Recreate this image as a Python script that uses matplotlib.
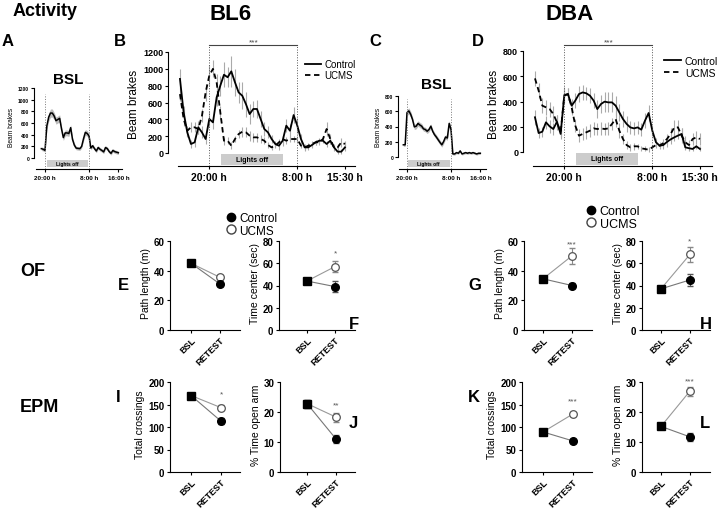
import numpy as np
import matplotlib
matplotlib.use("Agg")
from matplotlib import pyplot as plt
from matplotlib.lines import Line2D
from matplotlib.patches import Rectangle

plt.rcParams['font.family'] = ['Liberation Sans', 'DejaVu Sans']

W, H = 720, 510

# ---- activity data (beam brakes), hours relative to 20:00 ----
bsl_hours = np.arange(-1, 20.5, 0.5)
bl6_bsl = [160, 150, 130, 550, 700, 770, 770, 720, 640, 660,
           680, 500, 350, 430, 430, 420, 520, 320, 220, 170,
           165, 160, 200, 330, 440, 420, 380, 170, 210, 160,
           120, 180, 150, 130, 105, 180, 160, 110, 80, 130,
           110, 100, 90]
bl6_bsl_err = [30, 30, 30, 60, 70, 70, 70, 60, 60, 60,
               60, 50, 50, 50, 50, 50, 50, 40, 40, 30,
               30, 30, 30, 40, 50, 50, 40, 30, 30, 30,
               30, 30, 30, 30, 30, 30, 30, 30, 30, 30,
               30, 30, 30]
dba_bsl = [160, 160, 582, 604, 560, 493, 395, 404, 440, 420,
           404, 369, 360, 338, 360, 404, 337, 293, 262, 226,
           191, 160, 204, 262, 249, 440, 360, 40, 40, 58,
           49, 80, 40, 49, 58, 49, 58, 49, 58, 49,
           40, 49, 49]
dba_bsl_err = [20, 20, 40, 40, 40, 35, 35, 35, 35, 35,
               35, 30, 30, 30, 30, 30, 30, 30, 30, 30,
               30, 30, 30, 30, 30, 35, 30, 15, 15, 15,
               15, 15, 15, 15, 15, 15, 15, 15, 15, 15,
               15, 15, 15]

hours = np.arange(-4, 19, 0.5)
bl6_ctrl = [880, 483, 245, 107, 127, 305, 245, 166, 404, 364, 661, 800, 930, 900, 970, 840,
            720, 680, 580, 463, 523, 523, 404, 285, 245, 166, 107, 87, 146, 325, 265, 451,
            325, 166, 67, 67, 95, 127, 146, 146, 107, 146, 67, 16, 16, 67]
bl6_ctrl_err = [120, 80, 60, 50, 60, 80, 70, 60, 100, 80, 100, 120, 150, 120, 180, 160,
                120, 160, 150, 120, 100, 110, 90, 80, 70, 50, 40, 50, 60, 80, 80, 100,
                90, 60, 40, 30, 30, 30, 30, 30, 40, 40, 30, 30, 30, 40]
bl6_ucms = [700, 404, 265, 305, 305, 285, 443, 720, 920, 1000, 840, 483, 146, 146, 87, 166,
            225, 253, 245, 206, 186, 186, 166, 146, 95, 67, 87, 127, 166, 146, 166, 166,
            166, 87, 67, 87, 107, 127, 127, 166, 285, 166, 67, 67, 127, 107]
bl6_ucms_err = [80, 80, 60, 60, 60, 60, 80, 100, 120, 100, 100, 80, 50, 40, 40, 40,
                50, 60, 60, 60, 50, 50, 50, 40, 40, 30, 30, 40, 40, 40, 40, 40,
                40, 30, 30, 30, 30, 30, 30, 40, 80, 60, 40, 40, 50, 40]
dba_ctrl = [275, 150, 161, 235, 203, 182, 240, 143, 451, 459, 367, 407, 459, 472, 465, 446,
            407, 340, 380, 399, 393, 393, 367, 314, 261, 222, 195, 187, 195, 177, 248, 309,
            169, 77, 50, 55, 80, 100, 116, 130, 143, 37, 30, 24, 45, 24]
dba_ctrl_err = [60, 40, 40, 50, 50, 50, 50, 40, 60, 50, 50, 60, 60, 60, 50, 60,
                60, 70, 70, 80, 80, 80, 80, 70, 60, 60, 50, 50, 50, 50, 60, 60,
                40, 30, 30, 30, 40, 40, 30, 30, 50, 20, 20, 20, 20, 20]
dba_ucms = [583, 486, 367, 354, 340, 301, 235, 156, 446, 459, 354, 209, 129, 143, 156, 169,
            187, 182, 187, 182, 187, 222, 261, 169, 103, 55, 37, 45, 45, 29, 24, 18,
            37, 55, 50, 71, 103, 143, 195, 195, 129, 77, 55, 103, 116, 103]
dba_ucms_err = [60, 60, 60, 60, 60, 60, 60, 40, 50, 50, 60, 50, 50, 50, 50, 50,
                50, 50, 50, 50, 50, 50, 60, 60, 40, 30, 30, 30, 20, 20, 20, 20,
                20, 20, 20, 30, 40, 50, 60, 60, 60, 50, 40, 50, 50, 50]

# ---- OF / EPM data: [BSL, RETEST] ----
groups = ['BSL', 'RETEST']
of_path_bl6_ctrl, of_path_bl6_ctrl_err = [45, 31], [1.5, 1.5]
of_path_bl6_ucms, of_path_bl6_ucms_err = [45, 35.5], [1.5, 1.5]
of_center_bl6_ctrl, of_center_bl6_ctrl_err = [44, 39], [2.5, 5]
of_center_bl6_ucms, of_center_bl6_ucms_err = [44, 57], [2.5, 5]
of_path_dba_ctrl, of_path_dba_ctrl_err = [34.5, 30], [2, 2]
of_path_dba_ucms, of_path_dba_ucms_err = [34.5, 50], [2, 5.5]
of_center_dba_ctrl, of_center_dba_ctrl_err = [37, 45], [3, 5]
of_center_dba_ucms, of_center_dba_ucms_err = [37, 68], [3, 7]
epm_cross_bl6_ctrl, epm_cross_bl6_ctrl_err = [170, 113], [5, 6]
epm_cross_bl6_ucms, epm_cross_bl6_ucms_err = [170, 143], [5, 5]
epm_open_bl6_ctrl, epm_open_bl6_ctrl_err = [22.8, 11], [1.3, 1.2]
epm_open_bl6_ucms, epm_open_bl6_ucms_err = [22.8, 18.3], [1.3, 1.5]
epm_cross_dba_ctrl, epm_cross_dba_ctrl_err = [89, 69], [3, 4]
epm_cross_dba_ucms, epm_cross_dba_ucms_err = [89, 129], [3, 5]
epm_open_dba_ctrl, epm_open_dba_ctrl_err = [15.2, 11.7], [1, 1.2]
epm_open_dba_ucms, epm_open_dba_ucms_err = [15.2, 27], [1, 1.5]

fig = plt.figure(figsize=(W / 100, H / 100), dpi=100)


def px_axes(l, t, r, b):
    return fig.add_axes([l / W, 1 - b / H, (r - l) / W, (b - t) / H])


def fpx(x, y):
    return x / W, 1 - y / H


def time_axes(l, t, r, b, x0, x12, y0, ytop, yval):
    ax = px_axes(l, t, r, b)
    pph = (x12 - x0) / 12.0
    upp = yval / float(y0 - ytop)
    ax.set_xlim((l - x0) / pph, (r - x0) / pph)
    ax.set_ylim(-(b - y0) * upp, yval + (ytop - t) * upp)
    for s in ['top', 'right']:
        ax.spines[s].set_visible(False)
    ax.spines['left'].set_bounds(0, yval)
    return ax


def style_time(ax, ymax, ystep, ysize, xsize, xticks, xlabels, xb, lab_size):
    ax.set_yticks(np.arange(0, ymax + 1, ystep))
    ax.tick_params(axis='y', labelsize=ysize, width=0.8, length=2.5, pad=1)
    ax.tick_params(axis='x', labelsize=xsize, width=0.8, length=2.5, pad=2)
    for t in ax.get_yticklabels():
        t.set_fontweight('bold')
    ax.set_xticks(xticks)
    ax.set_xticklabels(xlabels, fontweight='bold')
    ax.spines['bottom'].set_bounds(*xb)
    ax.set_ylabel('Beam brakes', fontsize=lab_size, labelpad=2)


# ---- A: BL6 baseline ----
ax_a = time_axes(34, 85, 122, 170, 45, 89, 159, 89, 1200)
lo = np.array(bl6_bsl) - np.array(bl6_bsl_err)
hi = np.array(bl6_bsl) + np.array(bl6_bsl_err)
ax_a.fill_between(bsl_hours, lo, hi, color='#bbbbbb', lw=0)
ax_a.plot(bsl_hours, bl6_bsl, color='k', lw=1.1)
for xv in [0, 12]:
    ax_a.plot([xv, xv], [ax_a.get_ylim()[0], 1100], ls=':', color='#777', lw=0.7)
style_time(ax_a, 1200, 200, 3.5, 4.5, [0, 12, 20], ['20:00 h', '8:00 h', '16:00 h'], (-2.5, 21), 4.8)
ax_a.add_patch(Rectangle((0.55, -154), 11.1, 120, color='#cccccc', lw=0))
ax_a.text(6.1, -94, 'Lights off', ha='center', va='center', fontsize=3.5, fontweight='bold')
fig.text(*fpx(68, 80), 'BSL', ha='center', va='center', fontsize=11, fontweight='bold')

# ---- C: DBA baseline ----
ax_c = time_axes(398, 85, 487, 170, 407, 451, 158, 97, 800)
lo = np.array(dba_bsl) - np.array(dba_bsl_err)
hi = np.array(dba_bsl) + np.array(dba_bsl_err)
ax_c.fill_between(bsl_hours, lo, hi, color='#bbbbbb', lw=0)
ax_c.plot(bsl_hours, dba_bsl, color='k', lw=1.1)
for xv in [0, 12]:
    ax_c.plot([xv, xv], [ax_c.get_ylim()[0], 760], ls=':', color='#777', lw=0.7)
style_time(ax_c, 800, 200, 3.5, 4.5, [0, 12, 20], ['20:00 h', '8:00 h', '16:00 h'], (-2.3, 21.5), 4.8)
ax_c.add_patch(Rectangle((0.3, -131), 11.3, 92, color='#cccccc', lw=0))
ax_c.text(5.9, -85, 'Lights off', ha='center', va='center', fontsize=3.5, fontweight='bold')
fig.text(*fpx(436, 85), 'BSL', ha='center', va='center', fontsize=11, fontweight='bold')


def activity(ax, ctrl, ctrl_err, ucms, ucms_err, ymax, ystep, brk):
    ax.errorbar(hours, ctrl, yerr=ctrl_err, fmt='none', ecolor='#aaaaaa', elinewidth=0.8)
    ax.errorbar(hours, ucms, yerr=ucms_err, fmt='none', ecolor='#aaaaaa', elinewidth=0.8)
    ax.plot(hours, ctrl, color='k', lw=1.3, label='Control')
    ax.plot(hours, ucms, color='k', lw=1.3, ls=(0, (3, 2)), label='UCMS')
    lo = ax.get_ylim()[0]
    for xv in [0, 12]:
        ax.plot([xv, xv], [lo, brk], ls=':', color='#555', lw=0.7)
    ax.plot([0, 12], [brk, brk], color='#444', lw=0.8)
    ax.text(6, brk, '***', ha='center', va='bottom', fontsize=6, color='#444')
    style_time(ax, ymax, ystep, 6.5, 7.5, [0, 12, 18.5], ['20:00 h', '8:00 h', '15:30 h'],
               (-4.3, ax.get_xlim()[1]), 8.5)


# ---- B: BL6 ----
ax_b = time_axes(168, 42, 355, 167, 209.3, 297.3, 154, 53, 1200)
activity(ax_b, bl6_ctrl, bl6_ctrl_err, bl6_ucms, bl6_ucms_err, 1200, 200, 1283)
ax_b.add_patch(Rectangle((1.6, -143), 8.5, 131, color='#cccccc', lw=0))
ax_b.text(5.85, -77, 'Lights off', ha='center', va='center', fontsize=5, fontweight='bold')
ax_b.legend(loc='upper left', bbox_to_anchor=fpx(305, 60), bbox_transform=fig.transFigure,
            frameon=False, fontsize=7, handlelength=1.6, handletextpad=0.4,
            labelspacing=0.15, borderaxespad=0, borderpad=0)

# ---- D: DBA ----
ax_d = time_axes(523, 42, 712, 167, 564.3, 652.3, 153, 52, 800)
activity(ax_d, dba_ctrl, dba_ctrl_err, dba_ucms, dba_ucms_err, 800, 200, 848)
ax_d.add_patch(Rectangle((1.6, -103), 8.5, 95, color='#cccccc', lw=0))
ax_d.text(5.85, -55, 'Lights off', ha='center', va='center', fontsize=5, fontweight='bold')
ax_d.legend(loc='upper left', bbox_to_anchor=fpx(664, 57), bbox_transform=fig.transFigure,
            frameon=False, fontsize=7.5, handlelength=1.6, handletextpad=0.4,
            labelspacing=0.15, borderaxespad=0, borderpad=0)


# ---- small BSL/RETEST panels ----
def small(l, r, x_bsl, x_ret, y0, ytop, yval, ystep, ctrl, ctrl_err, ucms, ucms_err,
          ylabel, star, star_y):
    t = ytop - 6
    ax = px_axes(l, t, r, y0)
    ppu = float(x_ret - x_bsl)
    ax.set_xlim((l - x_bsl) / ppu, (r - x_bsl) / ppu)
    upp = yval / float(y0 - ytop)
    ax.set_ylim(0, yval + 6 * upp)
    for s in ['top', 'right']:
        ax.spines[s].set_visible(False)
    ax.spines['left'].set_bounds(0, yval)
    x = [0, 1]
    ax.errorbar(x, ucms, yerr=ucms_err, fmt='none', ecolor='#888', elinewidth=0.8, capsize=2.5)
    ax.errorbar(x, ctrl, yerr=ctrl_err, fmt='none', ecolor='#555', elinewidth=0.8, capsize=2.5)
    ax.plot(x, ucms, color='#999', lw=0.8)
    ax.plot(x, ctrl, color='#777', lw=0.8)
    ax.plot(1, ucms[1], 'o', ms=5.5, mfc='white', mec='#555', mew=0.9)
    ax.plot(1, ctrl[1], 'o', ms=5.5, color='k')
    ax.plot(0, ctrl[0], 's', ms=5.5, color='k')
    if star:
        ax.text(1, star_y, star, ha='center', va='center', fontsize=6, color='#555')
    ax.set_yticks(np.arange(0, yval + 1, ystep))
    ax.set_xticks(x)
    ax.set_xticklabels(groups, rotation=45, ha='right', rotation_mode='anchor', fontweight='bold')
    ax.tick_params(axis='y', labelsize=7, width=0.8, length=2.5, pad=1.5)
    ax.tick_params(axis='x', labelsize=6.5, width=0.8, length=2.5, pad=1)
    for tl in ax.get_yticklabels():
        tl.set_fontweight('bold')
    ax.set_ylabel(ylabel, fontsize=7.5, labelpad=2)
    return ax


small(170, 240, 191, 220, 331, 242, 60, 20, of_path_bl6_ctrl, of_path_bl6_ctrl_err,
      of_path_bl6_ucms, of_path_bl6_ucms_err, 'Path length (m)', '', 0)
small(279, 355, 307, 335, 331, 242, 80, 20, of_center_bl6_ctrl, of_center_bl6_ctrl_err,
      of_center_bl6_ucms, of_center_bl6_ucms_err, 'Time center (sec)', '*', 69)
small(524, 592, 543, 572, 331, 242, 60, 20, of_path_dba_ctrl, of_path_dba_ctrl_err,
      of_path_dba_ucms, of_path_dba_ucms_err, 'Path length (m)', '***', 58)
small(642, 710, 661, 690, 331, 242, 80, 20, of_center_dba_ctrl, of_center_dba_ctrl_err,
      of_center_dba_ucms, of_center_dba_ucms_err, 'Time center (sec)', '*', 80)
small(170, 240, 191, 221, 473, 383, 200, 50, epm_cross_bl6_ctrl, epm_cross_bl6_ctrl_err,
      epm_cross_bl6_ucms, epm_cross_bl6_ucms_err, 'Total crossings', '*', 174)
small(280, 355, 307, 336, 473, 383, 30, 10, epm_open_bl6_ctrl, epm_open_bl6_ctrl_err,
      epm_open_bl6_ucms, epm_open_bl6_ucms_err, '% Time open arm', '**', 22.5)
small(522, 592, 543, 573, 473, 383, 200, 50, epm_cross_dba_ctrl, epm_cross_dba_ctrl_err,
      epm_cross_dba_ucms, epm_cross_dba_ucms_err, 'Total crossings', '***', 157)
small(642, 710, 661, 690, 473, 383, 30, 10, epm_open_dba_ctrl, epm_open_dba_ctrl_err,
      epm_open_dba_ucms, epm_open_dba_ucms_err, '% Time open arm', '***', 30.5)

# ---- legends for OF / EPM ----
h_ctrl = Line2D([], [], marker='o', ls='none', color='k', ms=6)
h_ucms = Line2D([], [], marker='o', ls='none', mfc='white', mec='#444', ms=6.5)
fig.legend([h_ctrl, h_ucms], ['Control', 'UCMS'], loc='upper left',
           bbox_to_anchor=fpx(226, 213), frameon=False, fontsize=8.5, handlelength=0.8,
           handletextpad=0.3, labelspacing=0.05, borderpad=0, borderaxespad=0)
fig.legend([h_ctrl, h_ucms], ['Control', 'UCMS'], loc='upper left',
           bbox_to_anchor=fpx(586, 206), frameon=False, fontsize=9, handlelength=0.8,
           handletextpad=0.3, labelspacing=0.05, borderpad=0, borderaxespad=0)

# ---- titles and panel letters ----
fig.text(*fpx(45, 12), 'Activity', ha='center', va='center', fontsize=13, fontweight='bold')
fig.text(*fpx(231, 15), 'BL6', ha='center', va='center', fontsize=16, fontweight='bold')
fig.text(*fpx(570, 15), 'DBA', ha='center', va='center', fontsize=16, fontweight='bold')
fig.text(*fpx(20, 272), 'OF', ha='left', va='center', fontsize=13, fontweight='bold')
fig.text(*fpx(20, 408), 'EPM', ha='left', va='center', fontsize=13, fontweight='bold')
letters = [('A', 2, 42), ('B', 114, 42), ('C', 369, 42), ('D', 472, 42),
           ('E', 118, 285), ('F', 349, 325), ('G', 468, 285), ('H', 700, 325),
           ('I', 116, 398), ('J', 349, 423), ('K', 468, 398), ('L', 700, 423)]
for s, x, y in letters:
    fig.text(*fpx(x, y), s, ha='left', va='center', fontsize=12, fontweight='bold')

fig.savefig('out.png', dpi=100)
